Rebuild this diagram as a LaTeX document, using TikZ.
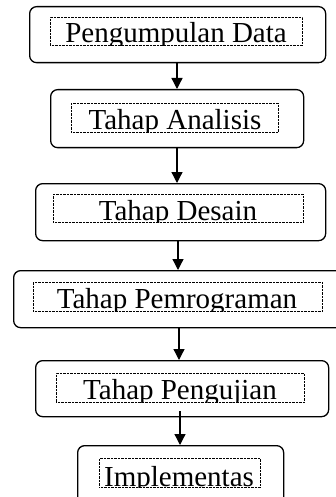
\documentclass[tikz,border=0pt]{standalone}
\usepackage{fontspec}
\setmainfont{Liberation Serif}
\usetikzlibrary{arrows.meta}
\begin{document}
\begin{tikzpicture}[x=1pt,y=-1pt,
  stagebox/.style={draw,line width=1.3pt,rounded corners=7pt,inner sep=0pt,anchor=north west},
  framebox/.style={draw,line width=0.7pt,dash pattern=on 0.7pt off 0.7pt,inner sep=0pt,anchor=north west},
  lbl/.style={font=\fontsize{29}{30}\selectfont,inner sep=0pt,anchor=base},
  arr/.style={line width=1.3pt,-{Triangle[length=11pt,width=11pt]}}]
\useasboundingbox (0,0) rectangle (335,497);
% outer boxes
\node[stagebox,minimum width=296pt,minimum height=56pt] (b1) at (29,6) {};
\node[stagebox,minimum width=253pt,minimum height=58pt] (b2) at (50,89) {};
\node[stagebox,minimum width=290pt,minimum height=57pt] (b3) at (35,183) {};
\node[stagebox,minimum width=330pt,minimum height=57pt] (b4) at (13,270) {};
\node[stagebox,minimum width=293pt,minimum height=56pt] (b5) at (35,360) {};
\node[stagebox,minimum width=206pt,minimum height=70pt] (b6) at (77,445) {};
% dotted text frames
\node[framebox,minimum width=252pt,minimum height=28pt] (f1) at (50,17) {};
\node[framebox,minimum width=207pt,minimum height=29pt] (f2) at (71,103) {};
\node[framebox,minimum width=250pt,minimum height=28pt] (f3) at (53,194) {};
\node[framebox,minimum width=289pt,minimum height=29pt] (f4) at (33,282) {};
\node[framebox,minimum width=248pt,minimum height=29pt] (f5) at (56,373) {};
\node[framebox,minimum width=161pt,minimum height=29pt] (f6) at (99,458) {};
% labels, clipped to their frames
\begin{scope}\clip (f1.north west) rectangle (f1.south east);
\node[lbl] (t1) at (176,43) {Pengumpulan Data};\end{scope}
\begin{scope}\clip (f2.north west) rectangle (f2.south east);
\node[lbl] (t2) at (175,130) {Tahap Analisis};\end{scope}
\begin{scope}\clip (f3.north west) rectangle (f3.south east);
\node[lbl] (t3) at (178,220) {Tahap Desain};\end{scope}
\begin{scope}\clip (f4.north west) rectangle (f4.south east);
\node[lbl] (t4) at (177,308) {Tahap Pemrograman};\end{scope}
\begin{scope}\clip (f5.north west) rectangle (f5.south east);
\node[lbl] (t5) at (180,399) {Tahap Pengujian};\end{scope}
\begin{scope}\clip (f6.north west) rectangle (f6.south east);
\node[lbl] (t6) at (179,486) {Implementas};\end{scope}
% connectors
\draw[arr] (b1.south -| 177,0) -- (b2.north -| 177,0);
\draw[arr] (b2.south -| 177,0) -- (b3.north -| 177,0);
\draw[arr] (b3.south -| 178,0) -- (b4.north -| 178,0);
\draw[arr] (b4.south -| 179,0) -- (b5.north -| 179,0);
\draw[arr] ([yshift=6pt]b5.south -| 180,0) -- (b6.north -| 180,0);
\end{tikzpicture}
\end{document}
